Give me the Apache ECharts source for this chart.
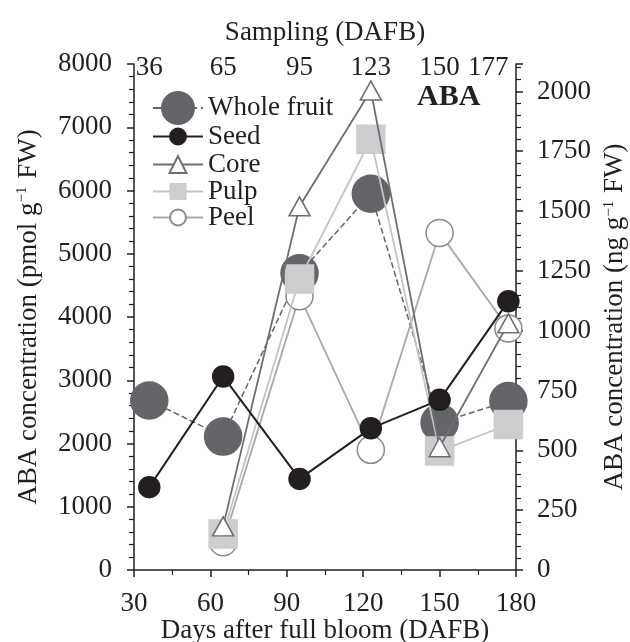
<!DOCTYPE html>
<html>
<head>
<meta charset="utf-8">
<script src="https://cdn.jsdelivr.net/npm/echarts@6/dist/echarts.min.js"></script>
<style>
    html, body { margin: 0; padding: 0; background: #fff; }
    #chartDiv { width: 630px; height: 642px; }
</style>
</head>
<body>
<div id="chartDiv"></div>
<script>
// sampling days (DAFB)
var samplingDays = [36, 65, 95, 123, 150, 177];
// ABA, pmol g-1 FW
var wholeFruit = [2680, 2110, 4690, 5950, 2330, 2670];
var seed = [1310, 3060, 1440, 2240, 2690, 4250];
var core = [null, 690, 5750, 7580, 1940, 3900];
var pulp = [null, 570, 4600, 6810, 1880, 2300];
var peel = [null, 440, 4330, 1900, 5330, 3820];
var seriesNames = ['Whole fruit', 'Seed', 'Core', 'Pulp', 'Peel'];
var abaMolarMass = 264.32; // pmol -> pg

var FONT = 'Liberation Serif';
var INK = '#231f20';
var FS = 27;

function toPairs(values) {
    var pairs = [];
    for (var i in values) {
        if (values[i] !== null) {
            pairs.push([samplingDays[i], values[i]]);
        }
    }
    return pairs;
}

var myChart = echarts.init(document.getElementById('chartDiv'));

var styles = [
    { symbol: 'circle', size: 37, fill: '#646569', border: '#646569', line: '#646569', width: 1.5, type: 'dashed', z: 2, legendH: 40, legendTop: 91 },
    { symbol: 'circle', size: 21, fill: INK, border: INK, line: INK, width: 2, type: 'solid', z: 6, legendH: 20, legendTop: 123 },
    { symbol: 'triangle', size: [21, 19], fill: '#fff', border: '#6d6e71', line: '#6d6e71', width: 1.8, type: 'solid', z: 5, legendH: 21, legendTop: 151 },
    { symbol: 'rect', size: 28, fill: '#cdcdd0', border: '#cdcdd0', line: '#c4c4c6', width: 1.8, type: 'solid', z: 4, legendH: 19, legendTop: 178 },
    { symbol: 'circle', size: 27, fill: '#fff', border: '#8a8a8d', line: '#a7a9ac', width: 1.8, type: 'solid', z: 3, legendH: 20, legendTop: 204 }
];
var seriesData = [wholeFruit, seed, core, pulp, peel];

var series = [];
var legends = [];
for (var i = 0; i < seriesNames.length; i++) {
    var s = styles[i];
    series.push({
        name: seriesNames[i],
        type: 'line',
        xAxisIndex: 0,
        yAxisIndex: 0,
        data: toPairs(seriesData[i]),
        symbol: s.symbol,
        symbolSize: s.size,
        showAllSymbol: true,
        z: s.z,
        lineStyle: { color: s.line, width: s.width, type: s.type },
        itemStyle: { color: s.fill, borderColor: s.border, borderWidth: 1.5, opacity: 1 },
        emphasis: { disabled: true },
        animation: false
    });
    legends.push({
        data: [seriesNames[i]],
        left: 152,
        top: s.legendTop,
        padding: 0,
        itemWidth: 50,
        itemHeight: s.legendH,
        selectedMode: false,
        textStyle: { fontFamily: FONT, fontSize: FS, color: INK }
    });
}

var axisText = { fontFamily: FONT, fontSize: FS, color: INK };
var axisLine = { show: true, lineStyle: { color: INK, width: 1.5 } };
var supRich = { sup: { fontFamily: FONT, fontSize: 15, color: INK, verticalAlign: 'top', padding: [0, 1, 10, 0] } };

var option = {
    backgroundColor: '#fff',
    animation: false,
    title: {
        text: 'ABA',
        left: 417,
        top: 82,
        padding: 0,
        textStyle: { fontFamily: FONT, fontSize: 30, fontWeight: 'bold', color: INK }
    },
    legend: legends,
    grid: { left: 134, right: 114, top: 64, bottom: 72, outerBoundsMode: 'none', containLabel: false },
    xAxis: [{
        type: 'value',
        position: 'bottom',
        min: 30,
        max: 180,
        interval: 30,
        name: 'Days after full bloom (DAFB)',
        nameLocation: 'middle',
        nameGap: 47,
        nameMoveOverlap: false,
        nameTextStyle: axisText,
        axisLine: axisLine,
        axisTick: { show: true, length: 7, lineStyle: { color: INK, width: 1.5 } },
        minorTick: { show: true, splitNumber: 2, length: 5, lineStyle: { color: INK, width: 1.2 } },
        axisLabel: Object.assign({ margin: 20 }, axisText),
        splitLine: { show: false }
    }, {
        type: 'value',
        position: 'top',
        min: 30,
        max: 180,
        name: 'Sampling (DAFB)',
        nameLocation: 'middle',
        nameGap: 18,
        nameTextStyle: axisText,
        axisLine: { show: false },
        axisTick: { show: false },
        axisLabel: Object.assign({
            margin: -17,
            customValues: samplingDays,
            formatter: function (v) { return v === 177 ? '{last|' + v + '}' : String(v); },
            rich: { last: { fontFamily: FONT, fontSize: FS, color: INK, padding: [0, 40, 0, 0] } }
        }, axisText),
        splitLine: { show: false }
    }],
    yAxis: [{
        type: 'value',
        position: 'left',
        min: 0,
        max: 8000,
        interval: 1000,
        name: 'ABA concentration (pmol g{sup|−1} FW)',
        nameLocation: 'middle',
        nameRotate: 90,
        nameGap: 92,
        nameTextStyle: Object.assign({ rich: supRich }, axisText),
        axisLine: axisLine,
        axisTick: { show: true, length: 7, lineStyle: { color: INK, width: 1.5 } },
        minorTick: { show: true, splitNumber: 5, length: 5, lineStyle: { color: INK, width: 1.2 } },
        axisLabel: Object.assign({
            margin: 22,
            formatter: function (v) { return String(v); }
        }, axisText),
        splitLine: { show: false }
    }, {
        type: 'value',
        position: 'right',
        min: 0,
        max: 8000 * abaMolarMass / 1000,
        interval: 250,
        name: 'ABA concentration (ng g{sup|−1} FW)',
        nameLocation: 'middle',
        nameRotate: 90,
        nameGap: 67,
        nameTextStyle: Object.assign({ rich: supRich }, axisText),
        axisLine: axisLine,
        axisTick: { show: true, length: 7, lineStyle: { color: INK, width: 1.5 } },
        minorTick: { show: true, splitNumber: 5, length: 5, lineStyle: { color: INK, width: 1.2 } },
        axisLabel: Object.assign({
            margin: 21,
            formatter: function (v) { return v % 250 === 0 ? String(v) : ''; }
        }, axisText),
        splitLine: { show: false }
    }],
    series: series
};

myChart.setOption(option);
</script>
</body>
</html>
